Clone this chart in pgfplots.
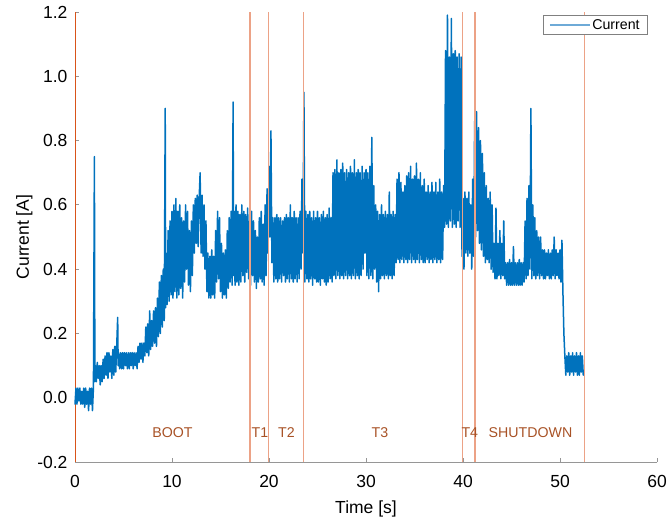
\documentclass[border=0pt]{standalone}
\usepackage{pgfplots}
\pgfplotsset{compat=1.18}
\usepackage{fontspec}
\setmainfont{Liberation Sans}
\definecolor{cblue}{RGB}{0,114,189}
\definecolor{legblue}{RGB}{110,170,215}
\definecolor{corange}{RGB}{217,83,25}
\definecolor{vline}{RGB}{236,162,134}
\definecolor{lbl}{RGB}{168,82,38}
\definecolor{axgray}{RGB}{150,150,150}
\begin{document}
\begin{tikzpicture}
\begin{axis}[
  name=ax,
  scale only axis,
  width=582pt, height=450pt,
  xmin=0, xmax=60, ymin=-0.2, ymax=1.2,
  axis x line=bottom, axis y line=left,
  axis line style={-, draw=axgray, line width=0.8pt},
  x axis line style={-, draw=axgray},
  y axis line style={-, draw=axgray},
  tick align=inside,
  major tick length=4pt,
  tick style={axgray, line width=0.8pt},
  xtick={0,10,20,30,40,50,60},
  xticklabels={0,10,20,30,40,50,60},
  ytick={-0.2,0,0.2,0.4,0.6,0.8,1.0,1.2},
  yticklabels={-0.2,0.0,0.2,0.4,0.6,0.8,1.0,1.2},
  ticklabel style={font=\fontsize{17.5}{20}\selectfont},
  xticklabel style={yshift=-10pt},
  yticklabel style={xshift=-4pt},
  xlabel={Time [s]}, ylabel={Current [A]},
  label style={font=\fontsize{17.5}{20}\selectfont},
  xlabel style={yshift=-6pt},
  ylabel style={yshift=-2pt},
  legend style={at={(0.9845,0.9933)}, anchor=north east, draw=gray, line width=0.6pt,
    fill=white, font=\fontsize{14.2}{16}\selectfont, inner xsep=6pt, inner ysep=2pt},
  legend cell align=left,
  clip=false,
]
\addplot[corange, line width=0.8pt, forget plot] coordinates {(0,-0.2)(0,1.2)};
\addplot[cblue, line width=1.5pt, line join=round, line cap=round, forget plot]
coordinates {
(0.0,-0.02)(0.1,0.03)(0.2,-0.02)(0.3,0.03)(0.4,-0.01)(0.5,0.03)(0.6,-0.02)(0.7,0.02)(0.8,-0.02)(0.9,0.03)
(1.0,-0.03)(1.1,0.03)(1.2,-0.02)(1.3,0.02)(1.4,-0.04)(1.5,0.03)(1.6,-0.02)(1.7,0.03)(1.8,-0.04)(1.9,0.03)
(2.0,0.75)(2.05,0.05)(2.1,0.10)(2.2,0.05)(2.3,0.11)(2.4,0.06)(2.5,0.10)(2.6,0.04)(2.7,0.10)(2.8,0.05)(2.9,0.12)
(3.0,0.06)(3.1,0.13)(3.2,0.07)(3.3,0.14)(3.4,0.06)(3.5,0.14)(3.6,0.08)(3.7,0.13)(3.8,0.06)(3.9,0.15)
(4.0,0.07)(4.1,0.16)(4.2,0.08)(4.3,0.16)(4.4,0.25)(4.45,0.10)(4.5,0.14)(4.6,0.09)(4.7,0.14)(4.8,0.09)(4.9,0.14)
(5.0,0.09)(5.1,0.14)(5.2,0.10)(5.3,0.14)(5.4,0.09)(5.5,0.14)(5.6,0.09)(5.7,0.14)(5.8,0.10)(5.9,0.14)
(6.0,0.09)(6.1,0.14)(6.2,0.10)(6.3,0.14)(6.4,0.09)(6.5,0.16)(6.6,0.11)(6.7,0.17)(6.8,0.12)(6.9,0.17)
(7.0,0.11)(7.1,0.17)(7.2,0.13)(7.3,0.22)(7.4,0.14)(7.5,0.23)(7.6,0.13)(7.7,0.27)(7.8,0.15)(7.9,0.24)
(8.0,0.16)(8.1,0.27)(8.2,0.17)(8.3,0.28)(8.4,0.16)(8.5,0.31)(8.6,0.19)(8.7,0.36)(8.8,0.20)(8.9,0.38)
(9.0,0.22)(9.1,0.40)(9.2,0.24)(9.3,0.90)(9.35,0.28)(9.4,0.45)(9.5,0.29)(9.6,0.52)(9.7,0.30)(9.8,0.55)(9.9,0.32)
(10.0,0.58)(10.1,0.31)(10.2,0.60)(10.3,0.33)(10.4,0.62)(10.5,0.31)(10.6,0.58)(10.7,0.32)(10.8,0.60)(10.9,0.34)
(11.0,0.56)(11.1,0.31)(11.2,0.55)(11.3,0.36)(11.4,0.60)(11.5,0.40)(11.6,0.58)(11.7,0.35)(11.8,0.52)(11.9,0.33)
(12.0,0.55)(12.1,0.38)(12.2,0.60)(12.3,0.45)(12.4,0.62)(12.5,0.48)(12.6,0.63)(12.7,0.47)(12.8,0.62)(12.9,0.70)
(13.0,0.45)(13.1,0.63)(13.2,0.44)(13.3,0.60)(13.4,0.40)(13.5,0.55)(13.6,0.33)(13.7,0.45)(13.8,0.31)(13.9,0.44)
(14.0,0.31)(14.1,0.46)(14.2,0.32)(14.3,0.44)(14.4,0.31)(14.5,0.52)(14.6,0.36)(14.7,0.58)(14.8,0.37)(14.9,0.56)
(15.0,0.33)(15.1,0.48)(15.2,0.31)(15.3,0.45)(15.4,0.32)(15.5,0.46)(15.6,0.31)(15.7,0.52)(15.8,0.34)(15.9,0.56)
(16.0,0.36)(16.1,0.58)(16.2,0.35)(16.3,0.92)(16.35,0.38)(16.4,0.58)(16.5,0.35)(16.6,0.60)(16.7,0.36)(16.8,0.58)(16.9,0.35)
(17.0,0.57)(17.1,0.36)(17.2,0.60)(17.3,0.38)(17.4,0.58)(17.5,0.36)(17.6,0.57)(17.7,0.39)(17.8,0.59)(17.9,0.37)
(18.0,0.55)(18.1,0.35)(18.2,0.58)(18.3,0.38)(18.4,0.55)(18.5,0.36)(18.6,0.52)(18.7,0.34)(18.8,0.50)(18.9,0.36)
(19.0,0.56)(19.1,0.37)(19.2,0.58)(19.3,0.36)(19.4,0.54)(19.5,0.35)(19.6,0.60)(19.7,0.38)(19.8,0.65)(19.9,0.45)
(20.0,0.72)(20.1,0.50)(20.2,0.83)(20.3,0.42)(20.4,0.56)(20.5,0.36)(20.6,0.56)(20.7,0.37)(20.8,0.57)(20.9,0.36)
(21.0,0.56)(21.1,0.37)(21.2,0.56)(21.3,0.36)(21.4,0.55)(21.5,0.38)(21.6,0.56)(21.7,0.36)(21.8,0.57)(21.9,0.37)
(22.0,0.56)(22.1,0.36)(22.2,0.60)(22.3,0.37)(22.4,0.56)(22.5,0.36)(22.6,0.58)(22.7,0.37)(22.8,0.56)(22.9,0.36)
(23.0,0.56)(23.1,0.37)(23.2,0.58)(23.3,0.40)(23.4,0.68)(23.5,0.45)(23.6,0.95)(23.7,0.36)(23.8,0.58)(23.9,0.37)
(24.0,0.57)(24.1,0.36)(24.2,0.58)(24.3,0.37)(24.4,0.56)(24.5,0.35)(24.6,0.58)(24.7,0.37)(24.8,0.56)(24.9,0.36)
(25.0,0.58)(25.1,0.36)(25.2,0.56)(25.3,0.35)(25.4,0.57)(25.5,0.37)(25.6,0.58)(25.7,0.36)(25.8,0.56)(25.9,0.35)
(26.0,0.57)(26.1,0.36)(26.2,0.59)(26.3,0.37)(26.4,0.56)(26.5,0.36)(26.6,0.70)(26.7,0.38)(26.8,0.71)(26.9,0.37)
(27.0,0.74)(27.1,0.38)(27.2,0.70)(27.3,0.37)(27.4,0.71)(27.5,0.38)(27.6,0.73)(27.7,0.37)(27.8,0.70)(27.9,0.38)
(28.0,0.71)(28.1,0.37)(28.2,0.70)(28.3,0.38)(28.4,0.72)(28.5,0.37)(28.6,0.70)(28.7,0.38)(28.8,0.74)(28.9,0.37)
(29.0,0.70)(29.1,0.38)(29.2,0.71)(29.3,0.37)(29.4,0.70)(29.5,0.38)(29.6,0.72)(29.7,0.40)(29.8,0.70)(29.9,0.45)
(30.0,0.71)(30.1,0.38)(30.2,0.70)(30.3,0.37)(30.4,0.72)(30.5,0.38)(30.6,0.81)(30.7,0.37)(30.8,0.66)(30.9,0.40)
(31.0,0.60)(31.1,0.36)(31.2,0.58)(31.3,0.33)(31.4,0.57)(31.5,0.37)(31.6,0.60)(31.7,0.38)(31.8,0.57)(31.9,0.37)
(32.0,0.58)(32.1,0.38)(32.2,0.57)(32.3,0.37)(32.4,0.64)(32.5,0.38)(32.6,0.57)(32.7,0.37)(32.8,0.58)(32.9,0.38)
(33.0,0.57)(33.1,0.42)(33.2,0.68)(33.3,0.43)(33.4,0.70)(33.5,0.42)(33.6,0.67)(33.7,0.43)(33.8,0.64)(33.9,0.42)
(34.0,0.66)(34.1,0.43)(34.2,0.69)(34.3,0.42)(34.4,0.70)(34.5,0.43)(34.6,0.72)(34.7,0.42)(34.8,0.68)(34.9,0.43)
(35.0,0.69)(35.1,0.42)(35.2,0.73)(35.3,0.43)(35.4,0.68)(35.5,0.42)(35.6,0.70)(35.7,0.43)(35.8,0.66)(35.9,0.42)
(36.0,0.68)(36.1,0.42)(36.2,0.64)(36.3,0.43)(36.4,0.66)(36.5,0.42)(36.6,0.64)(36.7,0.43)(36.8,0.67)(36.9,0.42)
(37.0,0.64)(37.1,0.43)(37.2,0.67)(37.3,0.42)(37.4,0.64)(37.5,0.43)(37.6,0.68)(37.7,0.42)(37.8,0.64)(37.9,0.43)
(38.0,0.66)(38.1,0.53)(38.2,1.08)(38.3,0.54)(38.4,1.19)(38.5,0.53)(38.6,1.06)(38.7,0.55)(38.8,1.18)(38.9,0.53)
(39.0,1.07)(39.1,0.54)(39.2,1.08)(39.3,0.53)(39.4,1.06)(39.5,0.55)(39.6,1.07)(39.7,0.53)(39.8,1.06)(39.9,0.44)
(40.0,0.62)(40.1,0.40)(40.2,0.64)(40.3,0.45)(40.4,0.62)(40.5,0.44)(40.6,0.64)(40.7,0.45)(40.8,0.60)(40.9,0.40)
(41.0,0.68)(41.1,0.44)(41.2,0.86)(41.3,0.50)(41.4,0.89)(41.5,0.52)(41.6,0.84)(41.7,0.48)(41.8,0.80)(41.9,0.46)
(42.0,0.76)(42.1,0.44)(42.2,0.70)(42.3,0.42)(42.4,0.66)(42.5,0.43)(42.6,0.62)(42.7,0.42)(42.8,0.64)(42.9,0.40)
(43.0,0.60)(43.1,0.39)(43.2,0.48)(43.3,0.37)(43.4,0.59)(43.5,0.37)(43.6,0.48)(43.7,0.38)(43.8,0.52)(43.9,0.37)
(44.0,0.48)(44.1,0.38)(44.2,0.55)(44.3,0.37)(44.4,0.42)(44.5,0.35)(44.6,0.42)(44.7,0.35)(44.8,0.43)(44.9,0.35)
(45.0,0.42)(45.1,0.35)(45.2,0.47)(45.3,0.35)(45.4,0.42)(45.5,0.35)(45.6,0.42)(45.7,0.35)(45.8,0.43)(45.9,0.35)
(46.0,0.42)(46.1,0.35)(46.2,0.42)(46.3,0.36)(46.4,0.55)(46.5,0.37)(46.6,0.62)(46.7,0.38)(46.8,0.66)(46.9,0.40)
(47.0,0.90)(47.1,0.37)(47.2,0.60)(47.3,0.38)(47.4,0.56)(47.5,0.37)(47.6,0.52)(47.7,0.38)(47.8,0.50)(47.9,0.37)
(48.0,0.50)(48.1,0.38)(48.2,0.46)(48.3,0.37)(48.4,0.46)(48.5,0.37)(48.6,0.45)(48.7,0.38)(48.8,0.46)(48.9,0.37)
(49.0,0.45)(49.1,0.37)(49.2,0.46)(49.3,0.38)(49.4,0.50)(49.5,0.37)(49.6,0.46)(49.7,0.38)(49.8,0.45)(49.9,0.37)
(50.0,0.46)(50.1,0.36)(50.2,0.49)(50.3,0.33)(50.4,0.20)(50.5,0.13)(50.6,0.07)(50.7,0.13)(50.8,0.08)(50.9,0.14)
(51.0,0.07)(51.1,0.13)(51.2,0.08)(51.3,0.14)(51.4,0.07)(51.5,0.13)(51.6,0.08)(51.7,0.14)(51.8,0.07)(51.9,0.13)
(52.0,0.07)(52.1,0.14)(52.2,0.08)(52.3,0.13)(52.4,0.07)
};
\addplot[vline, line width=1.3pt, forget plot] coordinates {(18.04,-0.2)(18.04,1.2)};
\addplot[vline, line width=1.3pt, forget plot] coordinates {(19.97,-0.2)(19.97,1.2)};
\addplot[vline, line width=1.3pt, forget plot] coordinates {(23.55,-0.2)(23.55,1.2)};
\addplot[vline, line width=1.3pt, forget plot] coordinates {(39.93,-0.2)(39.93,1.2)};
\addplot[vline, line width=1.3pt, forget plot] coordinates {(41.24,-0.2)(41.24,1.2)};
\addplot[vline, line width=1.3pt, forget plot] coordinates {(52.5,-0.2)(52.5,1.2)};
\addlegendimage{legblue, line width=1.1pt, legend image code/.code={\draw[legblue, line width=1.1pt] (0pt,0pt) -- (40pt,0pt);}}
\addlegendentry{Current}
\begin{scope}[every node/.style={text=lbl, font=\fontsize{14.2}{16}\selectfont, inner sep=0pt}]
\node at (axis cs:10.05,-0.109) {BOOT};
\node at (axis cs:19.07,-0.109) {T1};
\node at (axis cs:21.8,-0.109) {T2};
\node at (axis cs:31.44,-0.109) {T3};
\node at (axis cs:40.7,-0.109) {T4};
\node at (axis cs:46.96,-0.109) {SHUTDOWN};
\end{scope}
\end{axis}
\pgfresetboundingbox
\path ([xshift=-75pt,yshift=-58pt]ax.south west) rectangle ([xshift=10pt,yshift=12pt]ax.north east);
\end{tikzpicture}
\end{document}
